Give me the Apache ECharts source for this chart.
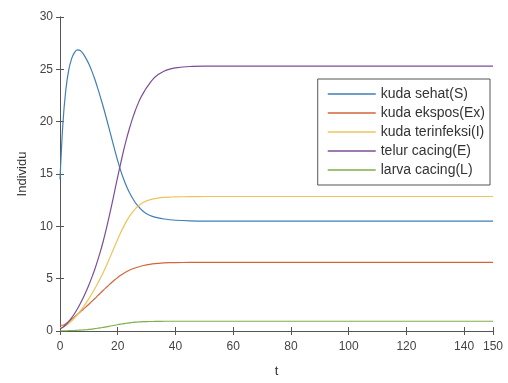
<!DOCTYPE html>
<html><head><meta charset="utf-8">
<script src="https://cdn.jsdelivr.net/npm/echarts@6/dist/echarts.min.js"></script>
<style>html,body{margin:0;padding:0;background:#fff}#c{width:508px;height:383px}</style>
</head><body><div id="c"></div>
<script>
const tValues = [0,1,2,3,4,5,6,7,8,9,10,11,12,13,14,15,16,17,18,19,20,21,22,23,24,25,26,27,28,29,30,32,34,36,38,40,45,50,60,70,80,90,100,110,120,130,140,150];
const seriesNames = ['kuda sehat(S)','kuda ekspos(Ex)','kuda terinfeksi(I)','telur cacing(E)','larva cacing(L)'];
const S  = [14.5,19.8,23.0,24.9,26.0,26.6,26.85,26.8,26.5,26.05,25.5,24.85,24.1,23.25,22.35,21.4,20.4,19.35,18.3,17.25,16.25,15.35,14.55,13.85,13.25,12.75,12.3,11.95,11.65,11.4,11.2,10.95,10.8,10.7,10.63,10.58,10.52,10.5,10.5,10.5,10.5,10.5,10.5,10.5,10.5,10.5,10.5,10.5];
const Ex = [0.6,0.55,0.7,0.9,1.12,1.35,1.58,1.82,2.06,2.31,2.56,2.82,3.08,3.35,3.62,3.89,4.15,4.41,4.66,4.9,5.12,5.32,5.5,5.66,5.8,5.92,6.02,6.11,6.19,6.26,6.32,6.41,6.47,6.51,6.53,6.54,6.55,6.55,6.55,6.55,6.55,6.55,6.55,6.55,6.55,6.55,6.55,6.55];
const I  = [0.3,0.38,0.52,0.72,0.96,1.24,1.55,1.89,2.26,2.66,3.09,3.54,4.02,4.52,5.05,5.6,6.2,6.83,7.48,8.13,8.77,9.38,9.95,10.47,10.93,11.32,11.65,11.92,12.13,12.3,12.43,12.6,12.7,12.76,12.79,12.81,12.84,12.85,12.85,12.85,12.85,12.85,12.85,12.85,12.85,12.85,12.85,12.85];
const E  = [0.2,0.35,0.6,0.9,1.25,1.65,2.1,2.6,3.15,3.75,4.4,5.1,5.85,6.7,7.6,8.6,9.7,10.9,12.15,13.45,14.75,16.0,17.2,18.3,19.3,20.2,21.0,21.7,22.3,22.8,23.25,24.0,24.5,24.82,25.02,25.14,25.27,25.3,25.3,25.3,25.3,25.3,25.3,25.3,25.3,25.3,25.3,25.3];
const L  = [0,0.01,0.02,0.03,0.04,0.05,0.07,0.08,0.1,0.12,0.15,0.18,0.22,0.26,0.3,0.35,0.4,0.45,0.5,0.55,0.6,0.65,0.7,0.74,0.78,0.81,0.84,0.86,0.88,0.89,0.9,0.91,0.92,0.93,0.93,0.93,0.93,0.93,0.93,0.93,0.93,0.93,0.93,0.93,0.93,0.93,0.93,0.93];
const colors = ['#3f7fb6','#d4653a','#ecc45a','#7a4f96','#7fae4a'];
const allData = [S, Ex, I, E, L];

const chart = echarts.init(document.getElementById('c'));
const axisCol = '#555';
const font = 'Liberation Sans, Arial, sans-serif';
function xa(pos, show){
  return {type:'value', position:pos, min:0, max:150, interval:20,
    name: show ? 't' : '', nameLocation:'middle', nameGap:34,
    nameTextStyle:{color:'#333', fontSize:13, fontFamily:font},
    axisLine:{show:true, lineStyle:{color:axisCol, width:1}},
    axisTick:{show:true, inside:true, length:4, lineStyle:{color:axisCol}},
    axisLabel:{show:show, color:'#444', fontSize:12, fontFamily:font, margin:10},
    splitLine:{show:false}};
}
function ya(pos, show){
  return {type:'value', position:pos, min:0, max:30, interval:5,
    name: show ? 'Individu' : '', nameLocation:'middle', nameGap:31, nameRotate:90,
    nameTextStyle:{color:'#333', fontSize:13, fontFamily:font},
    axisLine:{show:true, lineStyle:{color:axisCol, width:1}},
    axisTick:{show:true, inside:true, length:4, lineStyle:{color:axisCol}},
    axisLabel:{show:show, color:'#444', fontSize:12, fontFamily:font, margin:7},
    splitLine:{show:false}};
}
chart.setOption({
  animation:false,
  grid:{left:60, right:15, top:17, bottom:45},
  xAxis:[xa('bottom', true), xa('top', false)],
  yAxis:[ya('left', true), ya('right', false)],
  legend:{orient:'vertical', right:18, top:79, icon:'rect', itemWidth:48, itemHeight:1.3, itemGap:5,
    padding:[8,5,8,10], borderColor:'#555', borderWidth:1, backgroundColor:'#fff',
    textStyle:{color:'#333', fontSize:14, lineHeight:14, fontFamily:font},
    data:seriesNames},
  series: seriesNames.map((n,i)=>({
    name:n, type:'line', smooth:0.3, symbol:'none', color:colors[i],
    lineStyle:{width:1.2, color:colors[i]},
    data: tValues.map((t,k)=>[t, allData[i][k]])
  }))
});
</script></body></html>
